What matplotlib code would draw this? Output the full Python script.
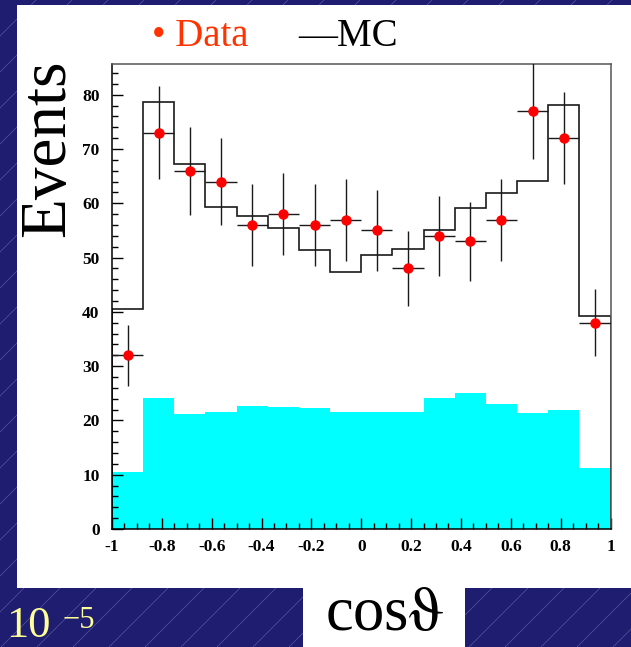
#!/usr/bin/env python3
"""cos(theta) distribution: data vs MC with background, slide-style layout."""

import matplotlib
matplotlib.use("Agg")
import matplotlib.pyplot as plt
import numpy as np
from matplotlib.patches import Rectangle
from matplotlib.ticker import FixedLocator, MultipleLocator

plt.rcParams["axes.unicode_minus"] = False

# Histogram contents, 16 bins in cos(theta) from -1 to 1
bin_lo = -1.0
bin_hi = 1.0
n_bins = 16
data_counts = [32, 73, 66, 64, 56, 58, 56, 57, 55, 48, 54, 53, 57, 77, 72, 38]
mc_counts = [40.5, 78.6, 67.2, 59.4, 57.7, 55.4, 51.4, 47.4,
             50.5, 51.5, 55.1, 59.2, 61.9, 64.1, 78.1, 39.3]
bkg_counts = [10.5, 24.2, 21.1, 21.5, 22.6, 22.4, 22.2, 21.6,
              21.6, 21.6, 24.2, 25.1, 23.1, 21.4, 21.9, 11.3]

x_ticks = [-1, -0.8, -0.6, -0.4, -0.2, 0, 0.2, 0.4, 0.6, 0.8, 1]
x_tick_labels = ["-1", "-0.8", "-0.6", "-0.4", "-0.2", "0", "0.2", "0.4", "0.6", "0.8", "1"]
y_ticks = [0, 10, 20, 30, 40, 50, 60, 70, 80]

NAVY = "#1f1d70"
SERIF = ["Liberation Serif", "DejaVu Serif"]

W, H = 631, 647
fig = plt.figure(figsize=(W / 100, H / 100), dpi=100)
fig.patch.set_facecolor(NAVY)

# Hintergrund in Pixelkoordinaten
bg = fig.add_axes([0, 0, 1, 1], zorder=0)
bg.set_xlim(0, W)
bg.set_ylim(H, 0)
bg.axis("off")
for x0 in range(-800, 800, 36):
    bg.plot([x0, x0 + 800], [800, 0], color="#9a9ad0", lw=0.5, alpha=0.45, zorder=0)
bg.add_patch(Rectangle((17, 5), W - 17, 583, facecolor="white", edgecolor="none", zorder=1))
bg.add_patch(Rectangle((303, 588), 162, 60, facecolor="white", edgecolor="none", zorder=1))

# Legende als Text
bg.text(152, 37, "\u2022 Data", color="#ff3300", fontsize=28, family=SERIF,
        ha="left", va="center", zorder=2)
bg.text(298, 37, "\u2014MC", color="black", fontsize=28, family=SERIF,
        ha="left", va="center", zorder=2)

# "10^-5" unten links
bg.text(6, 646, "10", color="#ffff99", fontsize=32, family=SERIF,
        ha="left", va="bottom", zorder=2)
bg.text(63, 628, "\u22125", color="#ffff99", fontsize=22, family=SERIF,
        ha="left", va="baseline", zorder=2)

ax = fig.add_axes([112 / W, (H - 529) / H, 498.5 / W, 464.7 / H], zorder=1)
ax.set_facecolor("white")

edges = np.linspace(bin_lo, bin_hi, n_bins + 1)
centers = 0.5 * (edges[:-1] + edges[1:])
half_w = 0.5 * (edges[1] - edges[0])
data = np.array(data_counts, dtype=float)

ax.stairs(bkg_counts, edges, fill=True, color="#00ffff", lw=0, zorder=1)
ax.stairs(mc_counts, edges, baseline=0, color="#1a1a1a", lw=1.2, zorder=2)
ax.errorbar(centers, data, yerr=np.sqrt(data), xerr=half_w, fmt="o",
            color="red", mec="red", ms=6.5, ecolor="#1a1a1a", elinewidth=1.0,
            capsize=0, zorder=3)

ax.set_xlim(bin_lo, bin_hi)
ax.set_ylim(0, 85.6)

ax.xaxis.set_major_locator(FixedLocator(x_ticks))
ax.set_xticklabels(x_tick_labels)
ax.xaxis.set_minor_locator(MultipleLocator(0.05))
ax.yaxis.set_major_locator(FixedLocator(y_ticks))
ax.yaxis.set_minor_locator(MultipleLocator(2))
ax.tick_params(which="both", direction="in", top=False, right=False, width=1)
ax.tick_params(which="major", length=8)
ax.tick_params(which="minor", length=4.5)
ax.tick_params(axis="x", pad=7)
ax.tick_params(axis="y", pad=9)
for lab in ax.get_xticklabels() + ax.get_yticklabels():
    lab.set_family(SERIF)
    lab.set_fontweight("bold")
    lab.set_fontsize(12.5)

for side in ["top", "right"]:
    ax.spines[side].set_color("#555555")
for sp in ax.spines.values():
    sp.set_linewidth(1.1)

ax.set_ylabel("Events", fontsize=47, family=SERIF, va="center", ha="center")
ax.yaxis.set_label_coords(-0.128, 0.82)
ax.set_xlabel(r"cos$\mathrm{\vartheta}$", fontsize=45, family=SERIF,
              math_fontfamily="stix", va="center", ha="center")
ax.xaxis.set_label_coords(0.546, -0.186)

fig.savefig("out.png", dpi=100, facecolor=NAVY)
